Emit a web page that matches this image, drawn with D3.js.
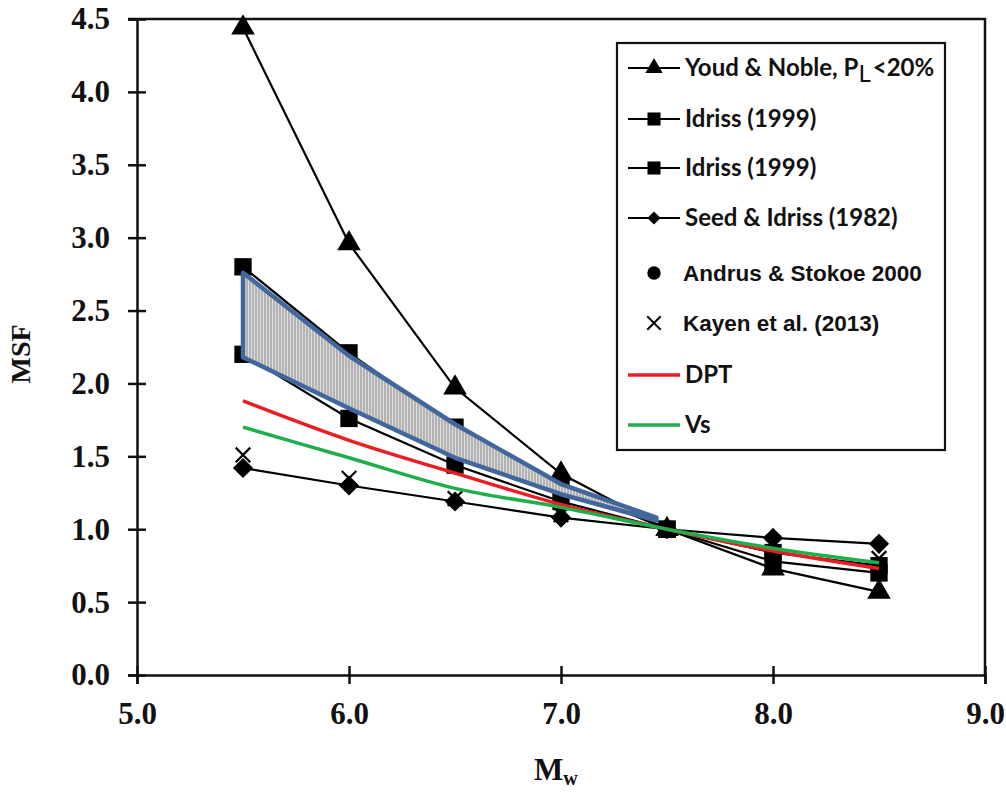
<!DOCTYPE html>
<html>
<head>
<meta charset="utf-8">
<script src="https://cdn.jsdelivr.net/npm/d3@7"></script>
<style>
  body { margin: 0; background: #fff; }
  svg { display: block; }
</style>
</head>
<body>
<div id="chart"></div>
<script>
// magnitudes
const mw = [5.5, 6.0, 6.5, 7.0, 7.5, 8.0, 8.5]

// series values
const youdNoble = [4.44, 2.96, 1.97, 1.38, 1.0, 0.73, 0.57]
const idrissUpper = [2.80, 2.21, 1.70, 1.30, 1.0, 0.84, 0.75]
const idrissLower = [2.20, 1.76, 1.44, 1.19, 1.0, 0.78, 0.70]
const seedIdriss = [1.42, 1.30, 1.19, 1.08, 1.0, 0.94, 0.90]
const andrusStokoe = [2.20, 1.76, 1.44, 1.19, 1.0, 0.85, 0.73]
const kayen = [1.51, 1.35, 1.21, 1.10, 1.0, 0.91, 0.80]
const dpt = [1.88, 1.61, 1.385, 1.17, 1.0, 0.85, 0.73]
const vs = [1.70, 1.49, 1.28, 1.15, 1.0, 0.87, 0.77]

// shaded band
const bandMw = [5.5, 6.0, 6.5, 7.0, 7.45]
const bandUpper = [2.76, 2.19, 1.72, 1.31, 1.08]
const bandLower = [2.18, 1.83, 1.49, 1.24, 1.06]

const xTicks = [5, 6, 7, 8, 9]
const yTicks = [0, 0.5, 1, 1.5, 2, 2.5, 3, 3.5, 4, 4.5]

const width = 1006
const height = 794

const svg = d3.select("#chart").append("svg")
  .attr("width", width)
  .attr("height", height)

const x = d3.scaleLinear().domain([5, 9]).range([137, 985])
const y = d3.scaleLinear().domain([0, 4.5]).range([675, 19])

// hatch pattern for band
const defs = svg.append("defs")
const pat = defs.append("pattern")
  .attr("id", "hatch")
  .attr("patternUnits", "userSpaceOnUse")
  .attr("width", 3)
  .attr("height", 10)
pat.append("rect").attr("width", 3).attr("height", 10).attr("fill", "#dcdcdc")
pat.append("line")
  .attr("x1", 1).attr("x2", 1).attr("y1", 0).attr("y2", 10)
  .attr("stroke", "#8a8a8a").attr("stroke-width", 1)

// frame top + right
svg.append("path")
  .attr("d", `M${x(5) - 9},${y(4.5)}H${x(9)}V${y(0)}`)
  .attr("fill", "none")
  .attr("stroke", "#111")
  .attr("stroke-width", 2.5)

const serif = "'Liberation Serif', 'Times New Roman', serif"

// AXES
const yAxis = svg.append("g")
  .attr("transform", `translate(${x(5)},0)`)
  .call(d3.axisLeft(y).tickValues(yTicks).tickFormat(d3.format(".1f")).tickSize(9).tickPadding(18))
yAxis.select(".domain").attr("stroke", "#111").attr("stroke-width", 2.5)
yAxis.selectAll(".tick line").attr("x1", 9).attr("stroke", "#111").attr("stroke-width", 2.5)
yAxis.selectAll("text")
  .style("font-family", serif)
  .style("font-weight", "bold")
  .style("font-size", "31px")
  .attr("fill", "#111")

const xAxis = svg.append("g")
  .attr("transform", `translate(0,${y(0)})`)
  .call(d3.axisBottom(x).tickValues(xTicks).tickFormat(d3.format(".1f")).tickSize(9).tickPadding(18))
xAxis.select(".domain").attr("stroke", "#111").attr("stroke-width", 2.5)
xAxis.selectAll(".tick line").attr("y1", -9).attr("stroke", "#111").attr("stroke-width", 2.5)
xAxis.selectAll("text")
  .style("font-family", serif)
  .style("font-weight", "bold")
  .style("font-size", "31px")
  .attr("fill", "#111")

// axis titles
svg.append("text")
  .attr("transform", `translate(30,354) rotate(-90)`)
  .attr("text-anchor", "middle")
  .style("font-family", serif)
  .style("font-weight", "bold")
  .style("font-size", "28px")
  .attr("fill", "#111")
  .text("MSF")

const mwTitle = svg.append("text")
  .attr("x", 534)
  .attr("y", 780)
  .style("font-family", serif)
  .style("font-weight", "bold")
  .style("font-size", "31px")
  .attr("fill", "#111")
mwTitle.append("tspan").text("M")
mwTitle.append("tspan").attr("dy", 5).style("font-size", "20px").text("w")

// MARKERS
const sym = {
  triangle: d3.symbol().type(d3.symbolTriangle),
  square: d3.symbol().type(d3.symbolSquare),
  diamond: d3.symbol().type(d3.symbolDiamond2),
  circle: d3.symbol().type(d3.symbolCircle),
  cross: d3.symbol().type(d3.symbolX)
}

const line = d3.line()
  .x(d => x(d[0]))
  .y(d => y(d[1]))

const smooth = d3.line()
  .x(d => x(d[0]))
  .y(d => y(d[1]))
  .curve(d3.curveCatmullRom.alpha(0.5))

const plot = svg.append("g")

// Andrus & Stokoe (circles, sit under the squares)
plot.selectAll(".andrus")
  .data(d3.zip(mw, andrusStokoe))
  .enter()
  .append("path")
  .attr("transform", d => `translate(${x(d[0])},${y(d[1])})`)
  .attr("d", sym.circle.size(150)())
  .attr("fill", "#000")

const markerSeries = [
  { values: seedIdriss, shape: "diamond", size: 260 },
  { values: idrissLower, shape: "square", size: 300 },
  { values: idrissUpper, shape: "square", size: 300 },
  { values: youdNoble, shape: "triangle", size: 240 }
]

markerSeries.forEach(s => {
  const pts = d3.zip(mw, s.values)
  plot.append("path")
    .datum(pts)
    .attr("d", line)
    .attr("fill", "none")
    .attr("stroke", "#000")
    .attr("stroke-width", 2.2)
  plot.selectAll(null)
    .data(pts)
    .enter()
    .append("path")
    .attr("transform", d => `translate(${x(d[0])},${y(d[1])})`)
    .attr("d", sym[s.shape].size(s.size)())
    .attr("fill", "#000")
})

// Kayen X markers
plot.selectAll(".kayen")
  .data(d3.zip(mw, kayen))
  .enter()
  .append("path")
  .attr("transform", d => `translate(${x(d[0])},${y(d[1])})`)
  .attr("d", sym.cross.size(140)())
  .attr("fill", "none")
  .attr("stroke", "#000")
  .attr("stroke-width", 2.2)

// DPT and Vs curves
plot.append("path")
  .datum(d3.zip(mw, dpt))
  .attr("d", smooth)
  .attr("fill", "none")
  .attr("stroke", "#ec1c24")
  .attr("stroke-width", 3.5)

plot.append("path")
  .datum(d3.zip(mw, vs))
  .attr("d", smooth)
  .attr("fill", "none")
  .attr("stroke", "#1fae4b")
  .attr("stroke-width", 3.5)

// shaded band
const bandPts = d3.zip(bandMw, bandUpper).concat(d3.zip(bandMw, bandLower).reverse())
plot.append("path")
  .datum(bandPts)
  .attr("d", d => line(d) + "Z")
  .attr("fill", "url(#hatch)")
  .attr("stroke", "#41679c")
  .attr("stroke-width", 4.5)
  .attr("stroke-linejoin", "round")

// LEGEND
const legend = svg.append("g")
legend.append("rect")
  .attr("x", 617).attr("y", 43)
  .attr("width", 328).attr("height", 407)
  .attr("fill", "#fff")
  .attr("stroke", "#111")
  .attr("stroke-width", 2.2)

const legendItems = [
  { label: "Youd & Noble, P", sub: "L", tail: "<20%", shape: "triangle", size: 130, line: "#000" },
  { label: "Idriss (1999)", shape: "square", size: 170, line: "#000" },
  { label: "Idriss (1999)", shape: "square", size: 170, line: "#000" },
  { label: "Seed & Idriss (1982)", shape: "diamond", size: 110, line: "#000" },
  { label: "Andrus & Stokoe 2000", shape: "circle", size: 140, arial: true },
  { label: "Kayen et al. (2013)", shape: "cross", size: 120, arial: true },
  { label: "DPT", line: "#ec1c24", wide: true },
  { label: "Vs", line: "#1fae4b", wide: true }
]
const rowY = [68, 119, 168, 218, 273, 323, 375, 425]

legendItems.forEach((d, i) => {
  const g = legend.append("g").attr("transform", `translate(0,${rowY[i]})`)
  if (d.line) {
    g.append("line")
      .attr("x1", 628).attr("x2", 680)
      .attr("stroke", d.line)
      .attr("stroke-width", d.wide ? 3.5 : 2)
  }
  if (d.shape) {
    const m = g.append("path")
      .attr("transform", `translate(654,0)`)
      .attr("d", sym[d.shape].size(d.size)())
    if (d.shape === "cross") {
      m.attr("fill", "none").attr("stroke", "#000").attr("stroke-width", 2)
    } else {
      m.attr("fill", "#000")
    }
  }
  const t = g.append("text")
    .attr("x", d.arial ? 683 : 685)
    .attr("y", 8)
    .attr("fill", "#111")
    .style("font-weight", "bold")
    .style("font-family", d.arial ? "'Liberation Sans', Arial, sans-serif" : "Lato, 'Open Sans', sans-serif")
    .style("font-size", d.arial ? "22.5px" : "24px")
  t.append("tspan").text(d.label)
  if (d.sub) {
    t.append("tspan").attr("dy", 6).style("font-weight", "normal").text(d.sub)
    t.append("tspan").attr("dy", -6).attr("dx", 2).text(d.tail)
  }
})
</script>
</body>
</html>
